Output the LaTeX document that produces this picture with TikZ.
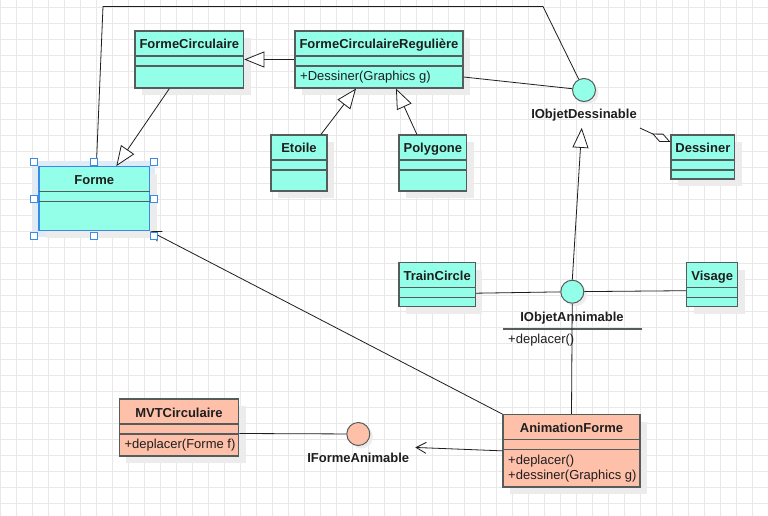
\documentclass[tikz,border=0pt]{standalone}
\usepackage{fontspec}
\setmainfont{Liberation Sans}
\usetikzlibrary{positioning,fit,shadows,arrows.meta}

\definecolor{cyanfill}{RGB}{148,255,232}
\definecolor{salmonfill}{RGB}{255,192,170}
\definecolor{classgrey}{RGB}{85,92,92}
\definecolor{shadowgrey}{RGB}{236,236,236}
\definecolor{gridgrey}{RGB}{232,232,232}
\definecolor{selblue}{RGB}{59,138,230}
\definecolor{selhalo}{RGB}{224,235,250}
\definecolor{inkcolor}{RGB}{30,30,30}

% class box: name, style, left, top, right, bottom, title, operations
\newcommand{\umlclass}[8]{%
  \path (#3,#4) coordinate (#1-nw) (#5,#6) coordinate (#1-se);
  \node[classbox,#2,fit=(#1-nw)(#1-se)] (#1) {};
  \draw[classline] (#3,#4+25) -- (#5,#4+25) (#3,#4+35) -- (#5,#4+35);
  \node[classname] (#1-title) at ({(#3+#5)/2},#4+18) {#7};
  \node[members] (#1-ops) at (#3+3,#4+38) {#8};
}

\begin{document}
\begin{tikzpicture}
  [x=1pt,y=-1pt,
   every node/.style={text=inkcolor},
   classbox/.style={draw=classgrey,line width=1.2pt,inner sep=0pt,
     drop shadow={shadow xshift=7pt,shadow yshift=-7pt,fill=shadowgrey,opacity=1}},
   cyanclass/.style={fill=cyanfill},
   salmonclass/.style={fill=salmonfill},
   selclass/.style={fill=cyanfill,draw=selblue},
   classline/.style={draw=classgrey,line width=1.2pt},
   classname/.style={anchor=base,inner sep=0pt,font=\fontsize{13}{15}\selectfont\bfseries},
   members/.style={anchor=north west,align=left,inner sep=2pt,font=\fontsize{13}{15}\selectfont},
   iface/.style={circle,draw=classgrey,line width=1pt,minimum size=23pt,inner sep=0pt,
     drop shadow={shadow xshift=3pt,shadow yshift=-3pt,fill=shadowgrey,opacity=1}},
   ilabel/.style={inner sep=0pt,text height=9.3pt,text depth=0pt,font=\fontsize{13}{15}\selectfont\bfseries},
   assoc/.style={draw=inkcolor,line width=0.8pt},
   gen/.style={assoc,-{Triangle[length=20pt,width=16pt,fill=white,line width=0.8pt]}},
   aggr/.style={assoc,-{Diamond[length=20pt,width=9pt,fill=white,line width=0.8pt]}},
   dep/.style={assoc,-{Straight Barb[length=10pt,width=11pt,line width=0.8pt]}},
   gridline/.style={draw=gridgrey,line width=0.8pt},
   handle/.style={draw=selblue,fill=white,line width=0.8pt}]

  \useasboundingbox (0,0) rectangle (768,516);
  \fill[white] (0,0) rectangle (768,516);
  \foreach \gx in {0,16,...,768}
    \draw[gridline] (\gx,0) -- (\gx,516);
  \foreach \gy in {7.3,23.3,...,519.3}
    \draw[gridline] (0,\gy) -- (768,\gy);

  % selection halo
  \fill[selhalo] (33,161) rectangle (155,237);

  % classes
  \umlclass{fc}{cyanclass}{135}{31}{243.7}{88}{FormeCirculaire}{}
  \umlclass{fcr}{cyanclass}{295}{31}{463}{88}{FormeCirculaireRegulière}{+Dessiner(Graphics g)}
  \umlclass{etoile}{cyanclass}{271}{135}{327}{191}{Etoile}{}
  \umlclass{polygone}{cyanclass}{399}{135}{466.7}{191}{Polygone}{}
  \umlclass{forme}{selclass}{39}{166.7}{149.7}{230.7}{Forme}{}
  \umlclass{dessiner}{cyanclass}{671}{135}{734.7}{179}{Dessiner}{}
  \umlclass{tc}{cyanclass}{399}{262.7}{475.3}{306.7}{TrainCircle}{}
  \umlclass{visage}{cyanclass}{686.7}{262.7}{737.7}{306.7}{Visage}{}
  \umlclass{af}{salmonclass}{503}{414.7}{640}{487}{AnimationForme}{+deplacer()\\+dessiner(Graphics g)}
  \umlclass{mvt}{salmonclass}{119.3}{399}{238.7}{456}{MVTCirculaire}{+deplacer(Forme f)}

  % interfaces
  \node[iface,fill=cyanfill] (iod) at (584,90) {};
  \node[ilabel] (iod-label) at (584,114.2) {IObjetDessinable};
  \node[iface,fill=cyanfill] (ioa) at (572.3,291.7) {};
  \node[ilabel] (ioa-label) at (572,316.5) {IObjetAnnimable};
  \draw[classline] (503.3,329) -- (642.3,329);
  \node[members,anchor=west] (ioa-ops) at (506,340.5) {+deplacer()};
  \node[iface,fill=salmonfill] (ifa) at (358.3,434) {};
  \node[ilabel] (ifa-label) at (358.2,458.3) {IFormeAnimable};

  % connectors
  \coordinate (bendA) at (103,6.5);
  \coordinate (bendB) at (543,6.5);
  \draw[assoc] ([xshift=2pt]forme.north) -- (bendA) -- (bendB) -- (iod);
  \draw[gen] ([xshift=-20pt]fc.south) -- ([xshift=22pt]forme.north);
  \draw[gen] (fcr.west) -- (fc.east);
  \draw[gen] ([xshift=22pt]etoile.north) -- ([xshift=-23pt]fcr.south);
  \draw[gen] ([xshift=-16pt]polygone.north) -- ([xshift=17pt]fcr.south);
  \draw[assoc] ([yshift=-17.5pt]fcr.east) -- (iod);
  \draw[aggr] ([xshift=3pt,yshift=-9pt]iod-label.south east) -- ([yshift=15pt]dessiner.west);
  \draw[gen] (ioa.north) -- ([xshift=-2.3pt,yshift=-8.8pt]iod-label.south);
  \draw[assoc] ([yshift=-8.5pt]tc.east) -- (ioa);
  \draw[assoc] ([yshift=-6pt]visage.west) -- (ioa);
  \draw[assoc] (af.north) -- (ioa);
  \draw[dep] (af.north west) -- (forme.south east);
  \draw[dep] (af.west) -- ([xshift=6pt,yshift=6pt]ifa-label.north east);
  \draw[assoc] ([yshift=-6pt]mvt.east) -- (ifa);

  % selection handles
  \foreach \hx/\hy in {34/162,94/162,154/162,34/199,154/199,34/236,94/236,154/236}
    \draw[handle] (\hx-3.75,\hy-3.75) rectangle (\hx+3.75,\hy+3.75);
\end{tikzpicture}
\end{document}
